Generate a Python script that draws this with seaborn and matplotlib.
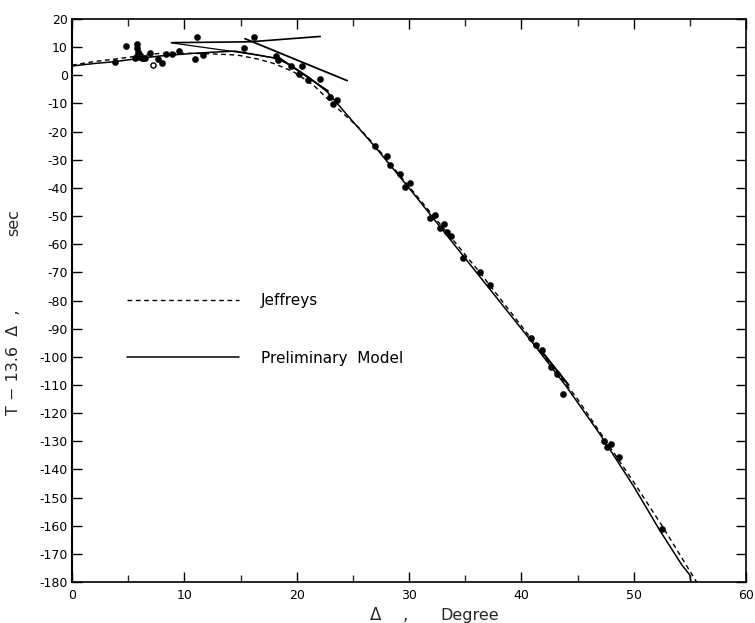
import numpy as np
import pandas as pd
import matplotlib
matplotlib.use("Agg")
import matplotlib.pyplot as plt
import seaborn as sns
from matplotlib.ticker import MultipleLocator

# ---------------- data ----------------
# Jeffreys curve (dashed)
jeff_x = [0, 2, 3.7, 6, 7.8, 10.8, 12.5, 14.7, 16.5, 17.9, 19.7, 21.5, 23.3,
          25.5, 27.0, 30.0, 33.0, 36.3, 40.0, 45.0, 50.0, 52.65, 55.6]
jeff_y = [3.6, 4.9, 5.7, 6.9, 7.8, 7.8, 7.6, 7.2, 5.8, 4.3, 1.3, -3.5, -10.5,
          -18.5, -25.0, -39.5, -54.0, -70.0, -89.0, -115.0, -144.5, -160.8, -180.0]

# Preliminary model, main branch (solid)
model_x = [0, 2, 3.7, 6, 7.8, 10.8, 12.5, 14.5, 16.3, 18.2, 19.4, 21.0, 22.7,
           24.8, 27.0, 30.0, 35.0, 38.0, 41.0, 44.0, 47.0, 50.0, 52.3, 54.3, 55.0, 55.1]
model_y = [3.3, 4.2, 4.8, 6.0, 6.85, 7.8, 8.2, 8.6, 7.4, 6.0, 3.7, -0.5, -5.8,
           -15.5, -25.5, -40.0, -65.0, -80.0, -95.0, -110.5, -127.5, -146.0, -161.5,
           -174.0, -177.5, -180.0]

# Preliminary model, additional branches (solid)
upper_x = [8.85, 15.85, 22.1]
upper_y = [11.6, 11.9, 13.8]
retro_x = [8.9, 15.3, 18.0]
retro_y = [11.5, 7.9, 6.2]
steep_x = [15.4, 24.5]
steep_y = [13.0, -1.9]
mid_x = [18.3, 22.8]
mid_y = [6.6, -5.6]
low_x = [41.8, 44.2]
low_y = [-98.0, -110.0]

# Observations (filled dots)
obs_x = [3.8, 4.8, 5.75, 5.75, 5.9, 6.05, 5.6, 6.2, 6.5, 5.8, 6.0, 6.3, 6.9,
         7.7, 8.0, 8.4, 8.9, 9.5, 10.95, 11.15, 11.7, 15.3, 16.2, 18.2, 18.3,
         19.5, 20.5, 20.2, 21.0, 22.1, 23.0, 23.6, 23.2, 27.0, 28.0, 28.3, 29.2,
         30.1, 29.6, 31.9, 32.3, 33.1, 32.8, 33.4, 33.7, 34.8, 36.3, 37.2, 40.9,
         41.3, 41.8, 42.6, 43.2, 43.75, 47.4, 47.95, 47.6, 48.65, 52.5]
obs_y = [4.8, 10.3, 11.0, 9.6, 8.4, 7.2, 6.0, 6.0, 6.0, 7.0, 6.5, 6.3, 7.9,
         5.7, 4.5, 7.7, 7.7, 8.7, 5.8, 13.7, 7.2, 9.7, 13.6, 7.0, 5.4,
         3.3, 3.3, 0.4, -1.5, -1.4, -7.7, -8.9, -10.2, -25.1, -28.7, -31.9, -35.2,
         -38.1, -39.8, -50.8, -49.6, -52.8, -54.4, -55.5, -57.1, -65.0, -69.8, -74.5, -93.4,
         -95.8, -97.6, -103.5, -106.1, -113.2, -129.8, -131.0, -131.9, -135.7, -161.3]

# Observation (open circle)
open_x = [7.24]
open_y = [3.7]

x_ticks = list(range(0, 61, 10))
y_ticks = list(range(-180, 21, 10))

# ---------------- plot ----------------
sns.set_style("ticks")
plt.rcParams["font.family"] = ["DejaVu Sans"]
plt.rcParams["axes.unicode_minus"] = False

fig = plt.figure(figsize=(7.55, 6.23), dpi=100)
ax = fig.add_axes([72 / 755, 1 - 582 / 623, (746 - 72) / 755, (582 - 19) / 623])

dash = (0, (3.4, 2.6))
sns.lineplot(x=jeff_x, y=jeff_y, ax=ax, color="black", lw=1.0,
             linestyle=dash, label="Jeffreys", sort=False)
sns.lineplot(x=model_x, y=model_y, ax=ax, color="black", lw=1.1,
             label="Preliminary  Model", sort=False)
for bx, by, w in [(upper_x, upper_y, 1.2), (retro_x, retro_y, 0.9),
                  (steep_x, steep_y, 1.3), (mid_x, mid_y, 1.3), (low_x, low_y, 1.5)]:
    sns.lineplot(x=bx, y=by, ax=ax, color="black", lw=w, sort=False, legend=False)

sns.scatterplot(x=obs_x, y=obs_y, ax=ax, color="black", s=20, edgecolor="black",
                linewidth=0.3, legend=False, zorder=5)
sns.scatterplot(x=open_x, y=open_y, ax=ax, facecolor="white", edgecolor="black",
                s=14, linewidth=1.0, legend=False, zorder=5)

ax.set_xlim(0, 60)
ax.set_ylim(-180, 20)
ax.set_xticks(x_ticks)
ax.set_yticks(y_ticks)
ax.xaxis.set_minor_locator(MultipleLocator(5))
ax.set_xlabel("")
ax.set_ylabel("")

for sp in ax.spines.values():
    sp.set_visible(True)
    sp.set_linewidth(1.2)
    sp.set_color("black")
ax.spines["left"].set_linewidth(1.5)

ax.tick_params(axis="both", which="major", direction="in", length=7, width=1.0,
               labelsize=9, top=True, right=True, colors="black")
ax.tick_params(axis="x", which="major", pad=5)
ax.tick_params(axis="y", which="major", pad=3)
ax.tick_params(axis="x", which="minor", direction="in", length=5, width=1.0,
               top=True, bottom=True)

leg = ax.legend(loc="upper left", bbox_to_anchor=((127 - 72) / 674, (582 - 293) / 563),
                frameon=False, fontsize=11, handlelength=7.3, handletextpad=1.45,
                labelspacing=2.8, borderpad=0, borderaxespad=0)
for t in leg.get_texts():
    t.set_color("black")

# axis labels
fig.text(376 / 755, 1 - 620 / 623, "Δ", fontsize=12, ha="center", va="baseline")
fig.text(405 / 755, 1 - 620 / 623, ",", fontsize=12, ha="center", va="baseline")
fig.text(470 / 755, 1 - 620 / 623, "Degree", fontsize=11.5, ha="center", va="baseline")
fig.text(14 / 755, 1 - 362 / 623, "T − 13.6  Δ  ,", fontsize=11.5, rotation=90,
         ha="center", va="center")
fig.text(14 / 755, 1 - 223 / 623, "sec", fontsize=11.5, rotation=90,
         ha="center", va="center")

fig.savefig("out.png", dpi=100, facecolor="white")
